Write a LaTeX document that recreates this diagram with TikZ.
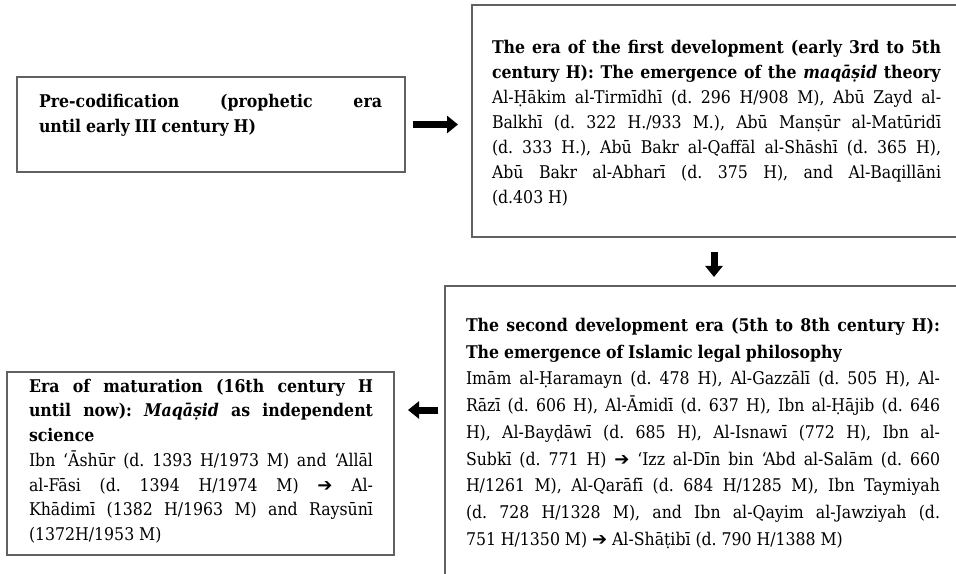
\documentclass[tikz,border=0pt]{standalone}
\usepackage{fontspec}
\setmainfont{DejaVu Serif Condensed}[BoldFont={DejaVu Serif Condensed Bold},ItalicFont={DejaVu Serif Condensed Italic},BoldItalicFont={DejaVu Serif Condensed Bold Italic}]
\newfontfamily\dvs{DejaVu Sans}
\usetikzlibrary{arrows.meta}
\setlength\parindent{0pt}
\setlength\parskip{0pt}
\frenchspacing
\tolerance=9999
\hyphenpenalty=10000
\exhyphenpenalty=10000
\newcommand\rarr{{\dvs\fontsize{18bp}{25bp}\selectfont ➔}}
\tikzset{
  frame/.style={draw=black!62, line width=2bp, fill=white, inner sep=0pt, outer sep=0pt, anchor=north west},
  txt/.style={inner sep=0pt, outer sep=0pt, anchor=north west, align=justify},
  barrow/.style={line width=7bp, -{Triangle[length=11bp,width=17bp]}, black},
}
\newcommand\txtfont[1]{\fontsize{17.5bp}{#1}\selectfont\spaceskip=0.28em plus 0.6em minus 0.1em\relax}
\begin{document}
\begin{tikzpicture}[x=1bp,y=-1bp]
\useasboundingbox (0,0) rectangle (956,574);
\clip (0,0) rectangle (956,574);
% boxes
\node[frame, minimum width=388bp, minimum height=95bp] (b1) at (17,77) {};
\node[frame, minimum width=520bp, minimum height=232bp] (b2) at (472,5) {};
\node[frame, minimum width=550bp, minimum height=320bp] (b3) at (445,286) {};
\node[frame, minimum width=387bp, minimum height=183bp] (b4) at (7,372) {};
% texts
\node[txt, text width=343bp, font=\txtfont{25bp}] (t1) at (39,94)
 {\textbf{Pre-codification (prophetic era\linebreak until early III century H)}};
\node[txt, text width=449bp, font=\txtfont{25bp}] (t2) at (492,40)
 {\textbf{The era of the first development (early 3rd to 5th\linebreak
 century H): The emergence of the \textit{maqāṣid} theory}\linebreak
 Al-Ḥākim al-Tirmīdhī (d. 296 H/908 M), Abū Zayd al-\linebreak
 Balkhī (d. 322 H./933 M.), Abū Manṣūr al-Matūridī\linebreak
 (d. 333 H.), Abū Bakr al-Qaffāl al-Shāshī (d. 365 H),\linebreak
 Abū Bakr al-Abharī (d. 375 H), and Al-Baqillāni\linebreak
 (d.403 H)};
\node[txt, text width=474bp, font=\txtfont{26.75bp}] (t3) at (466,318)
 {\textbf{The second development era (5th to 8th century H):\linebreak
 The emergence of Islamic legal philosophy}\par
 Imām al-Ḥaramayn (d. 478 H), Al-Gazzālī (d. 505 H), Al-\linebreak
 Rāzī (d. 606 H), Al-Āmidī (d. 637 H), Ibn al-Ḥājib (d. 646\linebreak
 H), Al-Bayḍāwī (d. 685 H), Al-Isnawī (772 H), Ibn al-\linebreak
 Subkī (d. 771 H) \rarr{} ‘Izz al-Dīn bin ‘Abd al-Salām (d. 660\linebreak
 H/1261 M), Al-Qarāfī (d. 684 H/1285 M), Ibn Taymiyah\linebreak
 (d. 728 H/1328 M), and Ibn al-Qayim al-Jawziyah (d.\linebreak
 751 H/1350 M) \rarr{} Al-Shāṭibī (d. 790 H/1388 M)};
\node[txt, text width=344bp, font=\txtfont{24.7bp}] (t4) at (29,379)
 {\textbf{Era of maturation (16th century H\linebreak
 until now): \textit{Maqāṣid} as independent\linebreak
 science}\par
 Ibn ‘Āshūr (d. 1393 H/1973 M) and ‘Allāl\linebreak
 al-Fāsi (d. 1394 H/1974 M) \rarr{} Al-\linebreak
 Khādimī (1382 H/1963 M) and Raysūnī\linebreak
 (1372H/1953 M)};
% connectors
\coordinate (da) at (714,237);
\coordinate (la) at (445,410);
\draw[barrow, shorten <=8bp, shorten >=14bp] (b1.east) -- (b1.east -| b2.west);
\draw[barrow, shorten <=15bp, shorten >=9bp] (da) -- (da |- b3.north);
\draw[barrow, shorten <=7bp, shorten >=14bp] (la) -- (la -| b4.east);
\end{tikzpicture}
\end{document}
